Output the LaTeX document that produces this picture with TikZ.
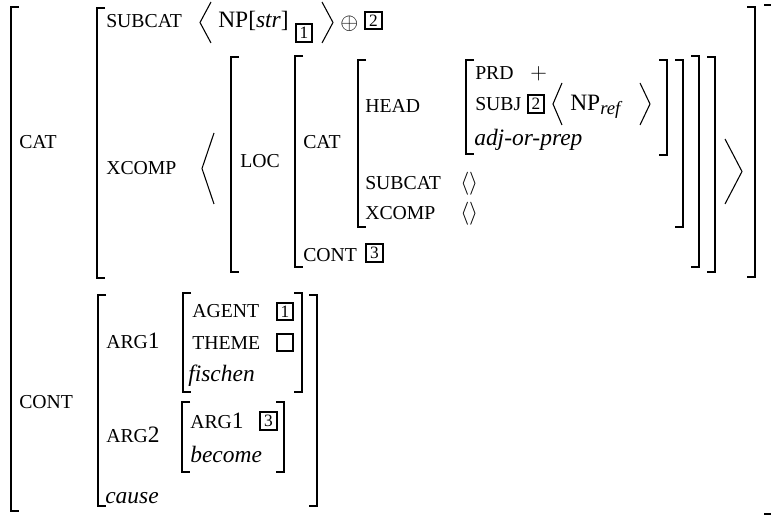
\documentclass[tikz,border=0pt]{standalone}
\usepackage{fontspec}
\setmainfont{Liberation Serif}
\usetikzlibrary{positioning}
\newcommand{\featfont}{\fontsize{14.8}{17}\selectfont}
\newcommand{\valfont}{\fontsize{17.6}{20}\selectfont}
\newcommand{\tagfont}{\fontsize{13}{13}\selectfont}
\newcommand{\subfont}{\fontsize{14}{14}\selectfont}

\begin{document}
\begin{tikzpicture}[x=0.75pt,y=-0.75pt,
    feat/.style={anchor=base west,inner sep=0pt,font=\featfont},
    val/.style={anchor=base west,inner sep=0pt,font=\valfont},
    tagbox/.style={draw,line width=1.5pt,inner sep=0pt,minimum width=12.5pt,minimum height=13pt,font=\tagfont},
    brk/.style={line width=0.8pt}]
    \useasboundingbox (0,0) rectangle (771,516);

    % Opening brackets (x/top/bottom)
    \foreach \x/\t/\b in {11/7/511, 97/8/278, 231/57/272, 295/56/267, 358/60/227, 466/60/154, 98/295/506, 183/293/392, 182/402/472} {
        \draw[brk] (\x+8,\t) -- (\x,\t) -- (\x,\b) -- (\x+8,\b);
    }
    % Closing brackets
    \foreach \x/\t/\b in {772/5/514, 755/7/277, 715/57/272, 699/56/267, 683/60/227, 667/60/155, 317/295/506, 302/293/392, 284/402/472} {
        \draw[brk] (\x-8,\t) -- (\x,\t) -- (\x,\b) -- (\x-8,\b);
    }
    % Angle brackets of the lists
    \foreach \xa/\xb/\t/\b in {211/200/2/43, 322/333/2/43, 214/202/133/204, 725/742/139/204, 562/553/83/125, 640/650/83/125} {
        \draw[brk] (\xa,\t) -- (\xb,{(\t+\b)/2}) -- (\xa,\b);
    }

    % Top level
    \node[feat] (cat) at (19,149) {CAT};
    \node[feat] (cont) at (19,408) {CONT};

    % CAT value
    \node[feat] (subcat) at (106,28) {SUBCAT};
    \node[val] (npstr) at (218,28) {NP[\textit{str}]};
    \node[tagbox] (tagA) at (304,33) {1};
    \node[val] (oplus) at (340,30) {$\oplus$};
    \node[tagbox] (tagB) at (373.5,20.5) {2};
    \node[feat] (xcomp) at (106,175) {XCOMP};
    \node[feat] (loc) at (240,168) {LOC};
    \node[feat] (lcat) at (303,149) {CAT};
    \node[feat] (lcont) at (303,262) {CONT};
    \node[tagbox] (tagC) at (374.5,253) {3};
    \node[feat] (head) at (365,113) {HEAD};
    \node[feat] (lsubcat) at (365,190) {SUBCAT};
    \node[val] (lsubcatv) at (460,190) {$\langle\rangle$};
    \node[feat] (lxcomp) at (365,220) {XCOMP};
    \node[val] (lxcompv) at (460,220) {$\langle\rangle$};

    % HEAD value
    \node[feat] (prd) at (475,80) {PRD};
    \node[val] (plus) at (530,80) {$+$};
    \node[feat] (subj) at (475,111) {SUBJ};
    \node[tagbox] (tagD) at (536,104) {2};
    \node[val] (npref) at (570,111) {NP\raisebox{-3pt}{\subfont\itshape ref}};
    \node[val] (adjprep) at (474,146) {\textit{adj-or-prep}};

    % CONT value
    \node[feat] (arga) at (106,349) {ARG{\valfont 1}};
    \node[feat] (agent) at (192,318) {AGENT};
    \node[tagbox] (tagE) at (285,311.5) {1};
    \node[feat] (theme) at (192,350) {THEME};
    \node[tagbox] (tagF) at (285,342.5) {};
    \node[val] (fischen) at (188,382) {\textit{fischen}};
    \node[feat] (argb) at (106,442) {ARG{\valfont 2}};
    \node[feat] (argc) at (190,428) {ARG{\valfont 1}};
    \node[tagbox] (tagG) at (268.5,421) {3};
    \node[val] (become) at (190,462) {\textit{become}};
    \node[val] (cause) at (105,503) {\textit{cause}};
\end{tikzpicture}
\end{document}
